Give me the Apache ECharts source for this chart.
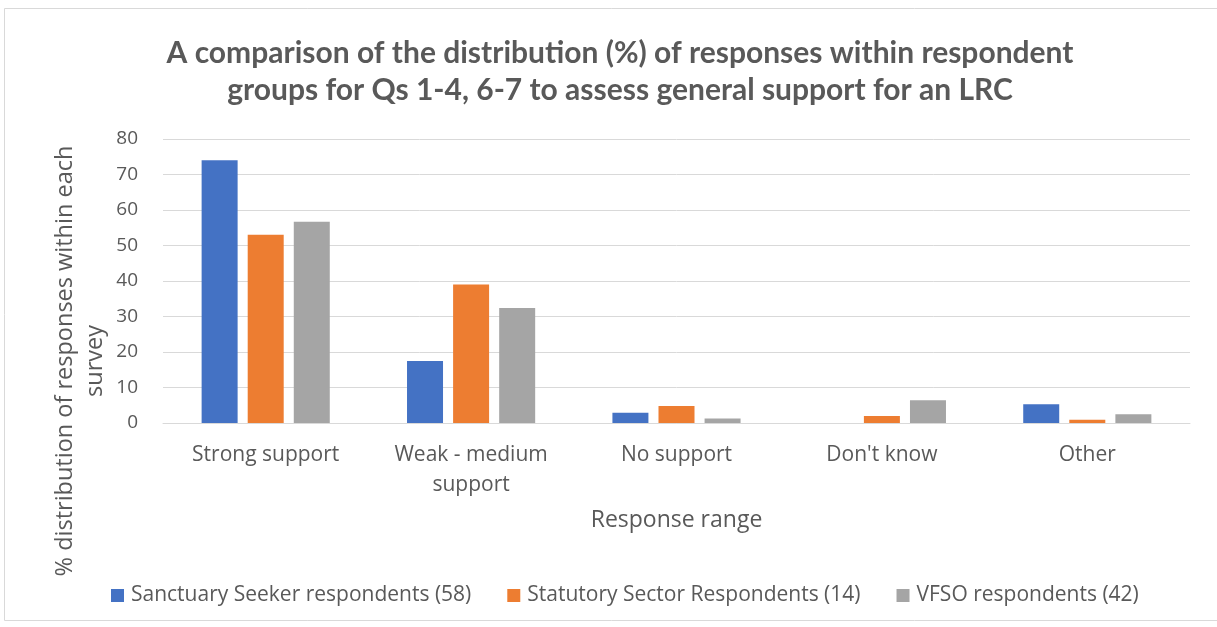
<!DOCTYPE html>
<html>
<head>
<meta charset="utf-8">
<script src="https://cdn.jsdelivr.net/npm/echarts@6/dist/echarts.min.js"></script>
<style>
  html, body { margin: 0; padding: 0; background: #fff; }
  #chart { width: 1217px; height: 627px; }
</style>
</head>
<body>
<div id="chart"></div>
<script>
// Response categories on the x axis
const categories = ['Strong support', 'Weak - medium\nsupport', 'No support', "Don't know", 'Other'];

// Share (%) of each respondent group's answers falling in each category
const sanctuarySeekers = [74.0, 17.5, 2.9, 0, 5.3];
const statutorySector  = [53.0, 39.0, 4.8, 2.0, 0.9];
const vfso             = [56.7, 32.4, 1.3, 6.4, 2.5];

const seriesNames = [
  'Sanctuary Seeker respondents (58)',
  'Statutory Sector Respondents (14)',
  'VFSO respondents (42)'
];

const yTicks = { min: 0, max: 80, interval: 10 };

const TITLE_FONT = "Lato, 'Liberation Sans', sans-serif";
const FONT = "'Open Sans', 'Noto Sans', 'DejaVu Sans', sans-serif";
const GREY_TEXT = '#595959';
const GRID = '#d9d9d9';

const chart = echarts.init(document.getElementById('chart'), null, { renderer: 'canvas' });

const makeBar = (name, data, color) => ({
  name,
  type: 'bar',
  data,
  barWidth: 36,
  barGap: '28%',
  itemStyle: { color },
  emphasis: { disabled: true }
});

chart.setOption({
  animation: false,
  textStyle: { fontFamily: FONT },
  title: {
    text: 'A comparison of the distribution (%) of responses within respondent\ngroups for Qs 1-4, 6-7 to assess general support for an LRC',
    left: 615,
    textAlign: 'center',
    top: 30,
    textStyle: {
      fontFamily: TITLE_FONT,
      fontSize: 30,
      fontWeight: 'bold',
      color: GREY_TEXT,
      lineHeight: 37
    }
  },
  graphic: [
    {
      // chart frame
      type: 'rect',
      shape: { x: 4.5, y: 8.5, width: 1230, height: 612 },
      style: { fill: 'none', stroke: GRID, lineWidth: 1 },
      silent: true,
      z: -1
    },
    {
      // value axis title, set lower than the axis midpoint
      type: 'text',
      x: 80,
      y: 361,
      rotation: Math.PI / 2,
      style: {
        text: '% distribution of responses within each\nsurvey',
        fontFamily: FONT,
        fontSize: 23.5,
        lineHeight: 30,
        fill: GREY_TEXT,
        align: 'center',
        verticalAlign: 'middle'
      },
      silent: true
    }
  ],
  legend: {
    top: 580,
    left: 106,
    itemWidth: 13,
    itemHeight: 13,
    itemGap: 36,
    icon: 'rect',
    textStyle: { fontFamily: FONT, fontSize: 21, color: GREY_TEXT, padding: [0, 0, 0, 2] },
    data: seriesNames
  },
  grid: { left: 163, right: 27, top: 139, bottom: 204, containLabel: false },
  xAxis: {
    type: 'category',
    data: categories,
    name: 'Response range',
    nameLocation: 'middle',
    nameGap: 86,
    nameTextStyle: { fontFamily: FONT, fontSize: 23, color: GREY_TEXT },
    axisLine: { lineStyle: { color: GRID, width: 1 } },
    axisTick: { show: false },
    axisLabel: {
      fontFamily: FONT, fontSize: 21, color: GREY_TEXT,
      margin: 17, lineHeight: 30, verticalAlign: 'top'
    }
  },
  yAxis: {
    type: 'value',
    min: yTicks.min,
    max: yTicks.max,
    interval: yTicks.interval,
    axisLine: { show: false },
    axisTick: { show: false },
    axisLabel: { fontFamily: FONT, fontSize: 19, color: GREY_TEXT, margin: 25 },
    splitLine: { lineStyle: { color: GRID, width: 1 } }
  },
  series: [
    makeBar(seriesNames[0], sanctuarySeekers, '#4472c4'),
    makeBar(seriesNames[1], statutorySector, '#ed7d31'),
    makeBar(seriesNames[2], vfso, '#a5a5a5')
  ]
});
</script>
</body>
</html>
